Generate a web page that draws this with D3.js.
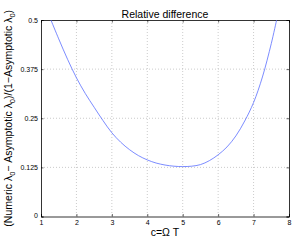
<!DOCTYPE html>
<html>
<head>
<meta charset="utf-8">
<script src="https://cdn.jsdelivr.net/npm/d3@7"></script>
<style>
  body { margin: 0; background: #fff; }
  svg text { font-family: "Liberation Sans", Arial, sans-serif; fill: #000; }
</style>
</head>
<body>
<div id="chart"></div>
<script>
// values
const cValues = [1.28, 1.5, 1.75, 2.0, 2.25, 2.5, 2.75, 3.0, 3.25, 3.5, 3.75, 4.0, 4.25, 4.5, 4.75, 5.0, 5.25, 5.5, 5.75, 6.0, 6.25, 6.5, 6.75, 7.0, 7.25, 7.5, 7.65]
const relDiff = [0.5, 0.452, 0.4, 0.353, 0.313, 0.278, 0.244, 0.213, 0.189, 0.17, 0.155, 0.144, 0.136, 0.131, 0.128, 0.127, 0.128, 0.132, 0.142, 0.157, 0.177, 0.205, 0.243, 0.29, 0.355, 0.44, 0.5]
const xTicks = [1, 2, 3, 4, 5, 6, 7, 8]
const yTicks = [0, 0.125, 0.25, 0.375, 0.5]
const yTickLabels = ["0", "0.125", "0.25", "0.375", "0.5"]

const svgWidth = 294
const svgHeight = 241
const margin = { left: 41, right: 5, top: 20, bottom: 24.5 }
const w = svgWidth - margin.left - margin.right
const h = svgHeight - margin.top - margin.bottom

const svg = d3.select("#chart").append("svg")
  .attr("width", svgWidth)
  .attr("height", svgHeight)

const g = svg.append("g")
  .attr("transform", "translate(" + margin.left + "," + margin.top + ")")

const x = d3.scaleLinear().domain([1, 8]).range([0, w])
const y = d3.scaleLinear().domain([0, 0.5]).range([h, 0])

// dotted grid
g.append("g").selectAll("line")
  .data(xTicks.slice(1, -1))
  .enter().append("line")
  .attr("x1", d => x(d)).attr("x2", d => x(d))
  .attr("y1", 0).attr("y2", h)
  .attr("stroke", "#b4b4b4").attr("stroke-width", 0.7)
  .attr("stroke-dasharray", "1,2")

g.append("g").selectAll("line")
  .data(yTicks.slice(1, -1))
  .enter().append("line")
  .attr("x1", 0).attr("x2", w)
  .attr("y1", d => y(d)).attr("y2", d => y(d))
  .attr("stroke", "#b4b4b4").attr("stroke-width", 0.7)
  .attr("stroke-dasharray", "1,2")

// axes, ticks pointing inward like matlab
const tickLen = 2.5
const xAxisBottom = d3.axisBottom(x).tickValues(xTicks).tickSize(-tickLen).tickPadding(4)
  .tickFormat(d3.format("d"))
const xAxisTop = d3.axisTop(x).tickValues(xTicks).tickSize(-tickLen).tickFormat("")
const yAxisLeft = d3.axisLeft(y).tickValues(yTicks).tickSize(-tickLen).tickPadding(3)
  .tickFormat((d, i) => yTickLabels[i])
const yAxisRight = d3.axisRight(y).tickValues(yTicks).tickSize(-tickLen).tickFormat("")

function styleAxis(sel) {
  sel.select(".domain").attr("stroke", "#000").attr("stroke-width", 0.8)
  sel.selectAll(".tick line").attr("stroke", "#000").attr("stroke-width", 0.6)
  sel.selectAll("text").style("font-size", "7px").style("font-family", "'Liberation Sans', Arial, sans-serif")
}

g.append("g").attr("transform", "translate(0," + h + ")").call(xAxisBottom).call(styleAxis)
  .selectAll(".tick text").attr("dy", "0.6em")
g.append("g").call(xAxisTop).call(styleAxis)
g.append("g").call(yAxisLeft).call(styleAxis)
  .selectAll(".tick text").attr("dy", d => d === 0 ? "0.1em" : "0.32em")
g.append("g").attr("transform", "translate(" + w + ",0)").call(yAxisRight).call(styleAxis)

// curve
g.append("clipPath").attr("id", "clip")
  .append("rect").attr("width", w).attr("height", h)

const line = d3.line()
  .x((d, i) => x(cValues[i]))
  .y(d => y(d))
  .curve(d3.curveCatmullRom)

g.append("path")
  .datum(relDiff)
  .attr("clip-path", "url(#clip)")
  .attr("fill", "none")
  .attr("stroke", "#5a6eff")
  .attr("stroke-width", 0.8)
  .attr("d", line)

// title and labels
svg.append("text")
  .attr("x", margin.left + w / 2)
  .attr("y", 17.5)
  .attr("text-anchor", "middle")
  .style("font-size", "10.5px")
  .text("Relative difference")

svg.append("text")
  .attr("x", margin.left + w / 2)
  .attr("y", 236)
  .attr("text-anchor", "middle")
  .style("font-size", "10.5px")
  .text("c=Ω T")

const ylab = svg.append("text")
  .attr("transform", "translate(12," + (margin.top + h / 2) + ") rotate(-90)")
  .attr("text-anchor", "middle")
  .style("font-size", "10.5px")

ylab.append("tspan").text("(Numeric λ")
ylab.append("tspan").attr("dy", 3).style("font-size", "7.5px").text("0")
ylab.append("tspan").attr("dy", -3).text("− Asymptotic λ")
ylab.append("tspan").attr("dy", 3).style("font-size", "7.5px").text("0")
ylab.append("tspan").attr("dy", -3).text(")/(1−Asymptotic λ")
ylab.append("tspan").attr("dy", 3).style("font-size", "7.5px").text("0")
ylab.append("tspan").attr("dy", -3).text(")")
</script>
</body>
</html>
